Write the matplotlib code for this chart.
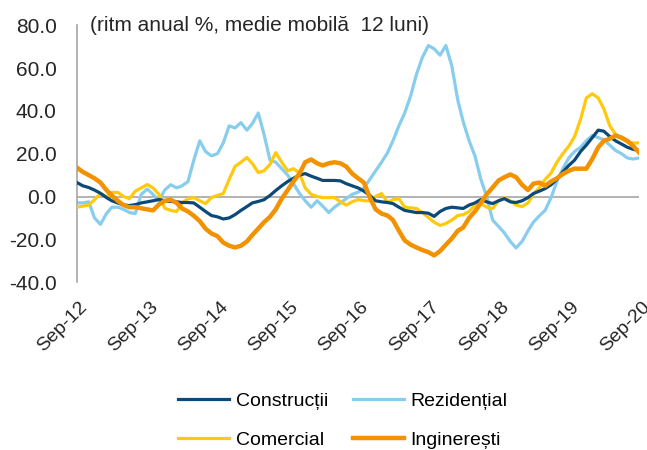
import matplotlib
matplotlib.use("Agg")
import matplotlib.pyplot as plt
import matplotlib.transforms as mtransforms
import pandas as pd

plt.rcParams['font.family'] = ['Liberation Sans', 'DejaVu Sans']

months = pd.date_range('2012-09-01', '2020-09-01', freq='MS')

constructii = [6.5, 5, 4.2, 3, 1.5, -0.5, -2, -3, -4, -4.2, -3.8, -3, -2.5, -2, -1.4, -2,
               -2.3, -2.5, -2.8, -2.8, -3, -5, -7, -8.9, -9.5, -10.5, -10, -8.5, -6.5, -4.7,
               -3, -2.3, -1.5, 0.5, 2.8, 5, 7, 8.5, 10, 10.7, 9.5, 8.5, 7.5, 7.5, 7.5, 7.3,
               6, 5, 4, 2.5, 0.5, -2, -2.5, -2.8, -3.3, -5, -6.5, -7, -7.5, -7.5, -7.8, -9.3,
               -7, -5.6, -5, -5.3, -5.6, -4, -3, -1.4, -2.5, -3.3, -2, -1, -2.5, -2.8, -2,
               -0.5, 1.4, 2.5, 3.7, 5.5, 8, 11.5, 14.5, 17, 21, 24, 27.5, 31, 30.5, 28, 26,
               24.5, 23, 22, 21.5]

rezidential = [-3, -3, -2.5, -10, -13, -8, -5, -5, -6, -7.5, -8, 1, 3.5, 1, -2, 3, 5.5, 4, 5,
               7, 17, 26, 21, 19, 20, 25, 33, 32, 34.5, 31, 34, 39, 29, 17, 16, 13, 10, 6,
               1.5, -2, -5, -2, -4.5, -7.5, -5, -3, -1, 1, 2, 4, 8, 12, 16, 20.5, 26, 33, 39,
               47, 57, 65, 70.5, 69, 66, 70.5, 61, 45, 35, 26, 19, 8, 0, -11, -14, -17, -21,
               -24, -21, -16, -12, -9, -6.5, -0.5, 7, 13, 18, 21, 23, 26, 28.5, 27.5, 26.5,
               24, 21.5, 20, 18, 17.5, 18]

comercial = [-5, -4.5, -4, -1.5, 1.4, 0, 1.9, 1.9, 0, -1, 2.5, 4, 5.6, 4, 1, -5.5, -6.5, -7,
             -3, -1, -0.5, -2, -3.3, -0.5, 0.5, 1.4, 8, 14, 16, 18.2, 15.4, 11.2, 12, 15, 20.5,
             16, 12, 13, 11, 4, 1, 0, -0.5, -0.5, -0.5, -2.5, -4, -2.5, -1.4, -2, -2, 0, 1.4,
             -2.8, -1.5, -1, -5, -5.3, -5.6, -7.5, -9.8, -12, -13.5, -12.6, -11, -8.9, -8.5,
             -7, -4, -3.3, -5, -5.6, -2, -0.5, -2, -4, -4.7, -3, 1, 4.2, 8, 11, 16, 20, 23.5,
             28, 36, 46, 48, 46, 41, 33, 29, 27, 25.5, 25, 25]

ingineresti = [13.5, 11.5, 10, 8.5, 6.5, 3, 0.5, -2, -4, -5, -5, -5.5, -6, -6.5, -3.7, -2,
               -1.5, -3, -5.6, -7, -9, -11.5, -15, -17.3, -18.5, -21.5, -23, -23.8, -23, -21,
               -18, -15, -12, -9.5, -6, -1, 3, 7, 10.7, 16, 17.3, 15.5, 14.5, 15.5, 16, 15.5,
               14, 10.7, 8.5, 6.5, -0.5, -6, -8, -8.9, -11, -16, -20.5, -22.5, -23.8, -25,
               -26, -27.5, -25.5, -22.5, -19.6, -16, -14.5, -10, -7, -3, 1, 4.2, 7.5, 9, 10.3,
               9, 5.5, 3, 6, 6.5, 5, 7, 8.5, 10.5, 12, 13, 13, 13, 17.5, 23, 26, 27, 28.5,
               27.5, 26, 23.5, 20.5]

yticks = [-40, -20, 0, 20, 40, 60, 80]
xtick_dates = pd.date_range('2012-09-01', '2020-09-01', freq='12MS')

fig = plt.figure(figsize=(6.47, 4.5), dpi=100)
ax = fig.add_axes([0.119, 0.373, 0.869, 0.571])

ax.axhline(0, color='#a6a6a6', lw=1.2, zorder=1)
l_rez, = ax.plot(months, rezidential, color='#87cdee', lw=2.3, label='Rezidențial', zorder=2)
l_com, = ax.plot(months, comercial, color='#ffc90e', lw=2.3, label='Comercial', zorder=3)
l_con, = ax.plot(months, constructii, color='#0b4a78', lw=2.3, label='Construcții', zorder=4)
l_ing, = ax.plot(months, ingineresti, color='#f39200', lw=3.2, label='Inginerești', zorder=5)

ax.set_xlim(months[0], months[-1])
ax.set_ylim(-40, 80)
ax.set_yticks(yticks)
ax.set_yticklabels(['%.1f' % v for v in yticks], fontsize=15, color='#262626')
ax.set_xticks(xtick_dates)
ax.set_xticklabels([d.strftime('%b-%y') for d in xtick_dates], rotation=45,
                   ha='right', rotation_mode='anchor', fontsize=14, color='#262626')
ax.tick_params(axis='both', length=0)
ax.tick_params(axis='y', pad=14.5)
ax.tick_params(axis='x', pad=12)

# nudge the date labels a bit to the right, like the original
shift = mtransforms.ScaledTranslation(2 / 100, 0, fig.dpi_scale_trans)
for lab in ax.get_xticklabels():
    lab.set_transform(lab.get_transform() + shift)

for s in ['top', 'right', 'bottom']:
    ax.spines[s].set_visible(False)
ax.spines['left'].set_color('#a6a6a6')
ax.spines['left'].set_linewidth(1.2)

ax.text(0.023, 1.0, '(ritm anual %, medie mobilă  12 luni)', transform=ax.transAxes,
        fontsize=15, va='center', ha='left', color='#262626')

fig.legend(handles=[l_con, l_com, l_rez, l_ing], ncol=2, loc='center',
           bbox_to_anchor=(0.53, 0.065), frameon=False, fontsize=14,
           handlelength=2.6, handletextpad=0.35, columnspacing=1.3, labelspacing=1.1)

fig.savefig('out.png', dpi=100)
